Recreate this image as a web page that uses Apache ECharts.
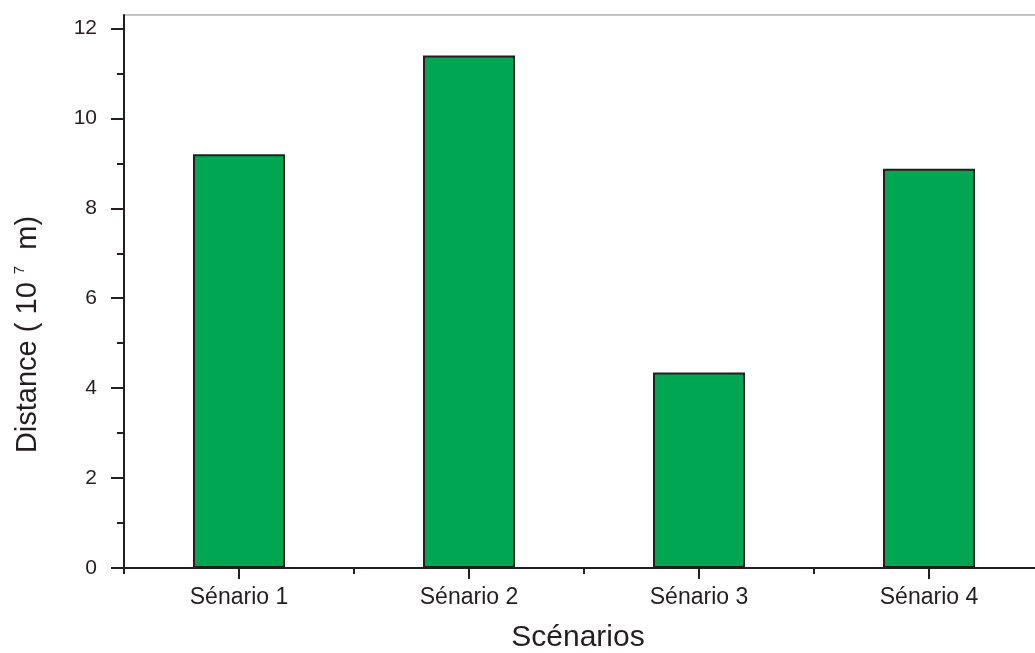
<!DOCTYPE html>
<html>
<head>
<meta charset="utf-8">
<script src="https://cdn.jsdelivr.net/npm/echarts@6/dist/echarts.min.js"></script>
<style>
  html, body { margin: 0; padding: 0; background: #fff; overflow: hidden; }
  #chart { width: 1044px; height: 653px; }
</style>
</head>
<body>
<div id="chart"></div>
<script>
// Scenario names and travelled distance (units of 10^7 m)
const categories = ['Sénario 1', 'Sénario 2', 'Sénario 3', 'Sénario 4'];
const distances = [9.2, 11.4, 4.35, 8.88];
const majorTicks = [0, 2, 4, 6, 8, 10, 12];
const minorTicks = [1, 3, 5, 7, 9, 11];

const FONT = '"Liberation Sans", Arial, sans-serif';
const INK = '#231f20';

const chart = echarts.init(document.getElementById('chart'), null, { renderer: 'canvas' });

chart.setOption({
  backgroundColor: '#fff',
  animation: false,
  grid: {
    left: 124, top: 15, bottom: 85, right: 0,
    outerBoundsMode: 'none',
    containLabel: false,
    show: true, borderColor: '#8a8a8a', borderWidth: 1
  },
  xAxis: [
    {
      type: 'category',
      data: categories,
      axisLine: { lineStyle: { color: INK, width: 2 } },
      axisTick: { show: true, alignWithLabel: true, length: 11, lineStyle: { color: INK, width: 2 } },
      axisLabel: { color: INK, fontFamily: FONT, fontSize: 23, margin: 18 },
      name: 'Scénarios',
      nameLocation: 'middle',
      nameGap: 55,
      nameTextStyle: { color: INK, fontFamily: FONT, fontSize: 30, padding: [0, 12, 0, 0] }
    },
    {
      // band boundary ticks
      type: 'category',
      data: categories,
      position: 'bottom',
      axisLine: { show: false },
      axisTick: { show: true, length: 6, lineStyle: { color: INK, width: 2 } },
      axisLabel: { show: false }
    }
  ],
  yAxis: [
    {
      type: 'value',
      min: 0, max: 12.3,
      axisLine: { show: true, lineStyle: { color: INK, width: 2 } },
      axisTick: { show: true, length: 13, customValues: majorTicks, lineStyle: { color: INK, width: 2 } },
      axisLabel: { color: INK, fontFamily: FONT, fontSize: 21, margin: 27, customValues: majorTicks },
      splitLine: { show: false },
      name: '{t|Distance ( 10 }{s|7}{t|  m)}',
      nameLocation: 'middle',
      nameGap: 80,
      nameTextStyle: {
        padding: [0, 86, 0, 0],
        rich: {
          t: { color: INK, fontFamily: FONT, fontSize: 29, lineHeight: 32 },
          s: { color: INK, fontFamily: FONT, fontSize: 15, lineHeight: 32, verticalAlign: 'top', padding: [0, 0, 14, 0] }
        }
      }
    },
    {
      // minor ticks between labelled values
      type: 'value',
      min: 0, max: 12.3,
      position: 'left',
      axisLine: { show: false },
      axisTick: { show: true, length: 7, customValues: minorTicks, lineStyle: { color: INK, width: 2 } },
      axisLabel: { show: false },
      splitLine: { show: false }
    }
  ],
  series: [
    {
      type: 'bar',
      data: distances,
      barWidth: '40%',
      itemStyle: { color: '#00a651', borderColor: INK, borderWidth: 2 }
    }
  ]
});
</script>
</body>
</html>
